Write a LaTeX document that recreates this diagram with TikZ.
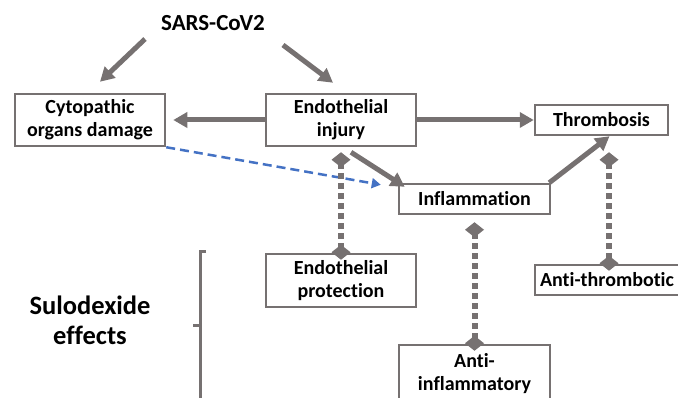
\documentclass[tikz,border=0pt]{standalone}
\usepackage{fontspec}
\setmainfont[Ligatures={NoCommon}]{Carlito}
\usetikzlibrary{arrows.meta}
\definecolor{arrowgray}{RGB}{118,113,113}
\definecolor{linkblue}{RGB}{68,114,196}
\tikzset{
	box/.style={draw=arrowgray, line width=2.5pt, fill=white, align=center, inner sep=0pt,
		font=\bfseries\fontsize{20}{23}\selectfont},
	flow/.style={draw=arrowgray, line width=5pt, -{Triangle[length=14pt,width=15pt]}},
	effect/.style={draw=arrowgray, line width=6pt, dash pattern=on 6pt off 4pt,
		{Diamond[length=15pt,width=19pt]}-{Diamond[length=15pt,width=19pt]}},
	cause/.style={draw=linkblue, line width=2.5pt, dash pattern=on 9pt off 5pt,
		-{Triangle[length=9pt,width=10pt]}}
}

\begin{document}
\begin{tikzpicture}[x=1pt, y=-1pt]
		%%%%% START %%%%%
		\useasboundingbox (0, 0) rectangle (678, 398);
		
		\node[font=\bfseries\fontsize{23}{27}\selectfont] (sars) at (213, 23) {SARS-CoV2};
		
		\node[box, minimum width=150pt, minimum height=52pt] (cyto) at (90, 120) {Cytopathic\\organs damage};
		\node[box, minimum width=150pt, minimum height=52pt] (injury) at (341, 120) {Endothelial\\injury};
		\node[box, minimum width=133pt, minimum height=30pt] (thromb) at (601.5, 120) {Thrombosis};
		\node[box, minimum width=151pt, minimum height=30pt] (inflam) at (474.5, 199) {Inflammation};
		
		\node[box, minimum width=150pt, minimum height=53pt] (protect) at (341, 280.5) {Endothelial\\protection};
		\node[box, minimum width=144pt, minimum height=30pt] (antithromb) at (607, 280) {Anti-thrombotic};
		\node[box, minimum width=151pt, minimum height=58pt] (antiinflam) at (474.5, 374) {Anti-\\inflammatory};
		
		\node[font=\bfseries\fontsize{26.5}{30}\selectfont, align=center] (sulo) at (90, 320) {Sulodexide\\effects};
		
		% virus
		\draw[flow] ([shift={(-68,16)}]sars.center) -- ([shift={(10,-11)}]cyto.north);
		\draw[flow] ([shift={(70,22)}]sars.center) -- ([shift={(-8,-10)}]injury.north);
		
		% injury
		\draw[flow] (injury.west) -- ([shift={(7,0)}]cyto.east);
		\draw[flow] (injury.east) -- (thromb.west);
		\draw[flow] ([shift={(10,5)}]injury.south) -- ([shift={(7,4)}]inflam.north west);
		\draw[flow] ([shift={(-2,0)}]inflam.north east) -- ([shift={(8,0)}]thromb.south);
		
		\draw[cause] (cyto.south east) -- ([shift={(-17,2)}]inflam.north west);
		
		% sulodexide
		\draw[effect] ([shift={(0,5)}]injury.south) -- ([shift={(0,7)}]protect.north);
		\draw[effect] ([shift={(0,7)}]inflam.south) -- ([shift={(0,7)}]antiinflam.north);
		\draw[effect] ([shift={(7.5,16)}]thromb.south) -- ([shift={(2,7)}]antithromb.north);
		
		\draw[arrowgray, line width=3pt] (206, 252) -- (200, 252) -- (200, 400);
		\draw[arrowgray, line width=3pt] (200, 326) -- (193, 326);
		
		%%%%% END %%%%%
	\end{tikzpicture}
\end{document}
